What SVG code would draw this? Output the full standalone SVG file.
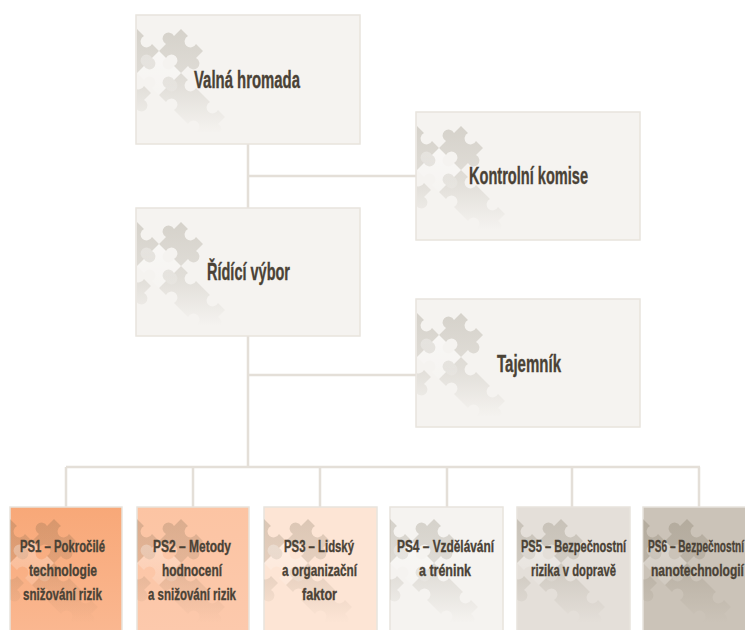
<svg xmlns="http://www.w3.org/2000/svg" xmlns:xlink="http://www.w3.org/1999/xlink" width="745" height="630" viewBox="0 0 745 630">
<style>
.conn{fill:none;stroke:#e4dfd8;stroke-width:2.5}
.box{stroke:#e8e4dd;stroke-width:1.5}
.big{fill:#f5f3f0}
.t{font-family:"Liberation Sans Narrow","Liberation Sans",sans-serif;font-weight:700;fill:#4a4236;stroke:#4a4236;stroke-width:.35}
.l{font-size:23px}
.s{font-size:17px}
</style>
<defs>
<linearGradient id="gd" gradientUnits="userSpaceOnUse" x1="0" y1="10" x2="0" y2="118">
<stop offset="0" stop-color="#5a5038" stop-opacity=".21"/><stop offset=".55" stop-color="#5a5038" stop-opacity=".13"/><stop offset="1" stop-color="#5a5038" stop-opacity="0"/>
</linearGradient>
<linearGradient id="gw" gradientUnits="userSpaceOnUse" x1="0" y1="40" x2="0" y2="105">
<stop offset="0" stop-color="#fff" stop-opacity=".3"/><stop offset="1" stop-color="#fff" stop-opacity="0"/>
</linearGradient>
<symbol id="puz" viewBox="0 0 112 125" overflow="hidden">
<path fill="url(#gd)" d="M44 14l-7 7a6 6 0 1 0-8 8l-7 7l7 7a6 6 0 1 1 8 8l7 7l7-7a6 6 0 1 0 8-8l7-7l-7-7a6 6 0 1 1-8-8z
M0 14l-7 7a6 6 0 1 0-8 8l-7 7l7 7a6 6 0 1 1 8 8l7 7l7-7a6 6 0 1 0 8-8l7-7l-7-7a6 6 0 1 1-8-8z
M44 58l-7 7a6 6 0 1 0-8 8l-7 7l7 7a6 6 0 1 1 8 8l7 7l7-7a6 6 0 1 0 8-8l7-7l-7-7a6 6 0 1 1-8-8z
M66 80l-7 7a6 6 0 1 0-8 8l-7 7l7 7a6 6 0 1 1 8 8l7 7l7-7a6 6 0 1 0 8-8l7-7l-7-7a6 6 0 1 1-8-8z
M-8 56l-7 7a6 6 0 1 0-8 8l-7 7l7 7a6 6 0 1 1 8 8l7 7l7-7a6 6 0 1 0 8-8l7-7l-7-7a6 6 0 1 1-8-8z"/>
<path fill="url(#gw)" d="M22 36l-7 7a6 6 0 1 0-8 8l-7 7l7 7a6 6 0 1 1 8 8l7 7l7-7a6 6 0 1 0 8-8l7-7l-7-7a6 6 0 1 1-8-8z"/>
</symbol>
<linearGradient id="f1" x1="0" y1="0" x2="0" y2="1"><stop offset="0" stop-color="#f8a878"/><stop offset="1" stop-color="#fab790"/></linearGradient>
<linearGradient id="f2" x1="0" y1="0" x2="0" y2="1"><stop offset="0" stop-color="#fcc4a3"/><stop offset="1" stop-color="#fcc9ac"/></linearGradient>
</defs>
<g id="connectors" class="conn">
<path d="M248 144V467"/>
<path d="M248 176H416"/>
<path d="M248 375H416"/>
<path d="M66 467H700"/>
<path d="M66 467V507M193 467V507M320 467V507M447 467V507M572 467V507M699 467V507"/>
</g>
<g id="valna-hromada"><rect class="box big" x="136" y="15" width="224" height="129"/><use xlink:href="#puz" x="137" y="15" width="112" height="125"/><text class="t l" transform="matrix(.8 0 0 1 194 88)" textLength="132.5" lengthAdjust="spacingAndGlyphs">Valná hromada</text></g>
<g id="kontrolni-komise"><rect class="box big" x="416" y="112" width="224" height="128"/><use xlink:href="#puz" x="417" y="112" width="112" height="125"/><text class="t l" transform="matrix(.8 0 0 1 469 184)" textLength="148.75" lengthAdjust="spacingAndGlyphs">Kontrolní komise</text></g>
<g id="ridici-vybor"><rect class="box big" x="136" y="208" width="224" height="128"/><use xlink:href="#puz" x="137" y="208" width="112" height="125"/><text class="t l" transform="matrix(.8 0 0 1 207 280)" textLength="103.75" lengthAdjust="spacingAndGlyphs">Řídící výbor</text></g>
<g id="tajemnik"><rect class="box big" x="416" y="299" width="224" height="128"/><use xlink:href="#puz" x="417" y="299" width="112" height="125"/><text class="t l" transform="matrix(.8 0 0 1 497 372)" textLength="80" lengthAdjust="spacingAndGlyphs">Tajemník</text></g>
<g id="ps1"><rect class="box" x="10" y="507" width="112" height="124" fill="url(#f1)"/><use xlink:href="#puz" x="10" y="505" width="112" height="125"/>
<text class="t s" transform="matrix(.8 0 0 1 20 552)" textLength="106.25" lengthAdjust="spacingAndGlyphs">PS1 – Pokročilé</text><text class="t s" transform="matrix(.8 0 0 1 29 576)" textLength="85" lengthAdjust="spacingAndGlyphs">technologie</text><text class="t s" transform="matrix(.8 0 0 1 23 600)" textLength="98.75" lengthAdjust="spacingAndGlyphs">snižování rizik</text></g>
<g id="ps2"><rect class="box" x="137" y="507" width="112" height="124" fill="url(#f2)"/><use xlink:href="#puz" x="137" y="505" width="112" height="125"/>
<text class="t s" transform="matrix(.8 0 0 1 153 552)" textLength="97.5" lengthAdjust="spacingAndGlyphs">PS2 – Metody</text><text class="t s" transform="matrix(.8 0 0 1 162 576)" textLength="75" lengthAdjust="spacingAndGlyphs">hodnocení</text><text class="t s" transform="matrix(.8 0 0 1 148 600)" textLength="110" lengthAdjust="spacingAndGlyphs">a snižování rizik</text></g>
<g id="ps3"><rect class="box" x="264" y="507" width="113" height="124" fill="#fde5d5"/><use xlink:href="#puz" x="264" y="505" width="112" height="125"/>
<text class="t s" transform="matrix(.8 0 0 1 284 552)" textLength="87.5" lengthAdjust="spacingAndGlyphs">PS3 – Lidský</text><text class="t s" transform="matrix(.8 0 0 1 282 576)" textLength="93.75" lengthAdjust="spacingAndGlyphs">a organizační</text><text class="t s" transform="matrix(.8 0 0 1 302 600)" textLength="43.75" lengthAdjust="spacingAndGlyphs">faktor</text></g>
<g id="ps4"><rect class="box" x="390" y="507" width="113" height="124" fill="#f5f3f0"/><use xlink:href="#puz" x="390" y="505" width="112" height="125"/>
<text class="t s" transform="matrix(.8 0 0 1 397 552)" textLength="121.25" lengthAdjust="spacingAndGlyphs">PS4 – Vzdělávání</text><text class="t s" transform="matrix(.8 0 0 1 419 576)" textLength="65" lengthAdjust="spacingAndGlyphs">a trénink</text></g>
<g id="ps5"><rect class="box" x="517" y="507" width="113" height="124" fill="#e4dfd9"/><use xlink:href="#puz" x="517" y="505" width="112" height="125"/>
<text class="t s" transform="matrix(.8 0 0 1 521 552)" textLength="131.25" lengthAdjust="spacingAndGlyphs">PS5 – Bezpečnostní</text><text class="t s" transform="matrix(.8 0 0 1 531 576)" textLength="106.25" lengthAdjust="spacingAndGlyphs">rizika v dopravě</text></g>
<g id="ps6"><rect class="box" x="643" y="507" width="113" height="124" fill="#cbc3b8"/><use xlink:href="#puz" x="643" y="505" width="112" height="125"/>
<text class="t s" transform="matrix(.58 0 0 1 648 552)" textLength="165.5" lengthAdjust="spacingAndGlyphs">PS6 – Bezpečnostní</text><text class="t s" transform="matrix(.7 0 0 1 651 576)" textLength="132.8" lengthAdjust="spacingAndGlyphs">nanotechnologií</text></g>
</svg>
